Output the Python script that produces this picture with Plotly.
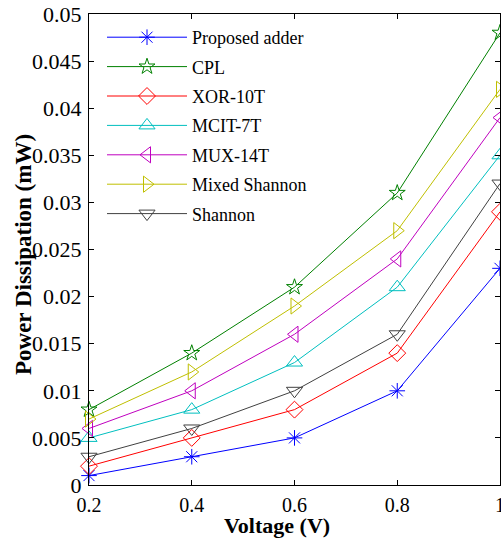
import plotly.graph_objects as go

voltage = [0.2, 0.4, 0.6, 0.8, 1.0]
proposed = [0.001, 0.003, 0.005, 0.010, 0.023]
cpl = [0.008, 0.014, 0.021, 0.031, 0.048]
xor10t = [0.002, 0.005, 0.008, 0.014, 0.029]
mcit7t = [0.005, 0.008, 0.013, 0.021, 0.035]
mux14t = [0.006, 0.010, 0.016, 0.024, 0.039]
mixed_shannon = [0.007, 0.012, 0.019, 0.027, 0.042]
shannon = [0.003, 0.006, 0.010, 0.016, 0.032]

series_names = ["Proposed adder", "CPL", "XOR-10T", "MCIT-7T", "MUX-14T", "Mixed Shannon", "Shannon"]
series_vals = [proposed, cpl, xor10t, mcit7t, mux14t, mixed_shannon, shannon]
colors = ["#0000FF", "#008000", "#FF0000", "#00BFBF", "#BF00BF", "#BFBF00", "#404040"]
symbols = ["asterisk-open", "star-open", "diamond-open", "triangle-up-open",
           "triangle-left-open", "triangle-right-open", "triangle-down-open"]
sizes = [13, 12, 13, 14, 14, 14, 14]

x_tickvals = [0.2, 0.4, 0.6, 0.8, 1.0]
x_ticktext = ["0.2", "0.4", "0.6", "0.8", "1"]
y_tickvals = [0, 0.005, 0.01, 0.015, 0.02, 0.025, 0.03, 0.035, 0.04, 0.045, 0.05]
y_ticktext = ["0", "0.005", "0.01", "0.015", "0.02", "0.025", "0.03", "0.035", "0.04", "0.045", "0.05"]

FONT = "Liberation Serif"

fig = go.Figure()
for i, (name, vals) in enumerate(zip(series_names, series_vals)):
    fig.add_trace(go.Scatter(
        x=voltage, y=vals, name=name, mode="lines+markers",
        line=dict(color=colors[i], width=1),
        marker=dict(symbol=symbols[i], size=sizes[i], color=colors[i],
                    line=dict(color=colors[i], width=1)),
        cliponaxis=False, legendgroup=name,
    ))

W, H = 501, 539
L, R, T, B = 89, 1, 14, 54
PW, PH = W - L - R, H - T - B


def px_x(page_x):
    return (page_x - L) / PW


def px_y(page_y):
    return (H - B - page_y) / PH


axis_common = dict(
    ticks="inside", ticklen=5, tickcolor="black",
    showline=True, linecolor="black", linewidth=1, mirror="ticks",
    showgrid=False, zeroline=False, automargin=False,
    ticklabeloverflow="allow",
)

fig.update_layout(
    width=W, height=H,
    margin=dict(l=L, r=R, t=T, b=B, autoexpand=False),
    paper_bgcolor="white", plot_bgcolor="white",
    font=dict(family=FONT, color="black"),
    showlegend=True,
    legend=dict(x=px_x(102), y=px_y(19),
                xanchor="left", yanchor="top",
                font=dict(family=FONT, size=18, color="black"),
                bgcolor="rgba(255,255,255,0)", borderwidth=0,
                itemwidth=80, tracegroupgap=3),
    xaxis=dict(range=[0.2, 1.0], tickvals=x_tickvals, ticktext=x_ticktext,
               ticklabelstandoff=2,
               tickfont=dict(family=FONT, size=20, color="black"), **axis_common),
    yaxis=dict(range=[0, 0.05], tickvals=y_tickvals, ticktext=y_ticktext,
               ticklabelstandoff=2,
               tickfont=dict(family=FONT, size=22, color="black"), **axis_common),
    annotations=[
        dict(text="<b>Voltage (V)</b>", xref="paper", yref="paper",
             x=px_x(277), y=px_y(525),
             xanchor="center", yanchor="middle", showarrow=False,
             font=dict(family=FONT, size=22, color="black")),
        dict(text="<b>Power Dissipation (mW)</b>", xref="paper", yref="paper",
             x=px_x(23), y=px_y(255),
             xanchor="center", yanchor="middle", showarrow=False, textangle=-90,
             font=dict(family=FONT, size=23, color="black")),
    ],
)

fig.write_html(
    "out.html",
    config={"displayModeBar": False},
    post_script=(
        "document.documentElement.style.overflow='hidden';"
        "document.body.style.overflow='hidden';"
        "document.body.style.margin='0';"
    ),
)
